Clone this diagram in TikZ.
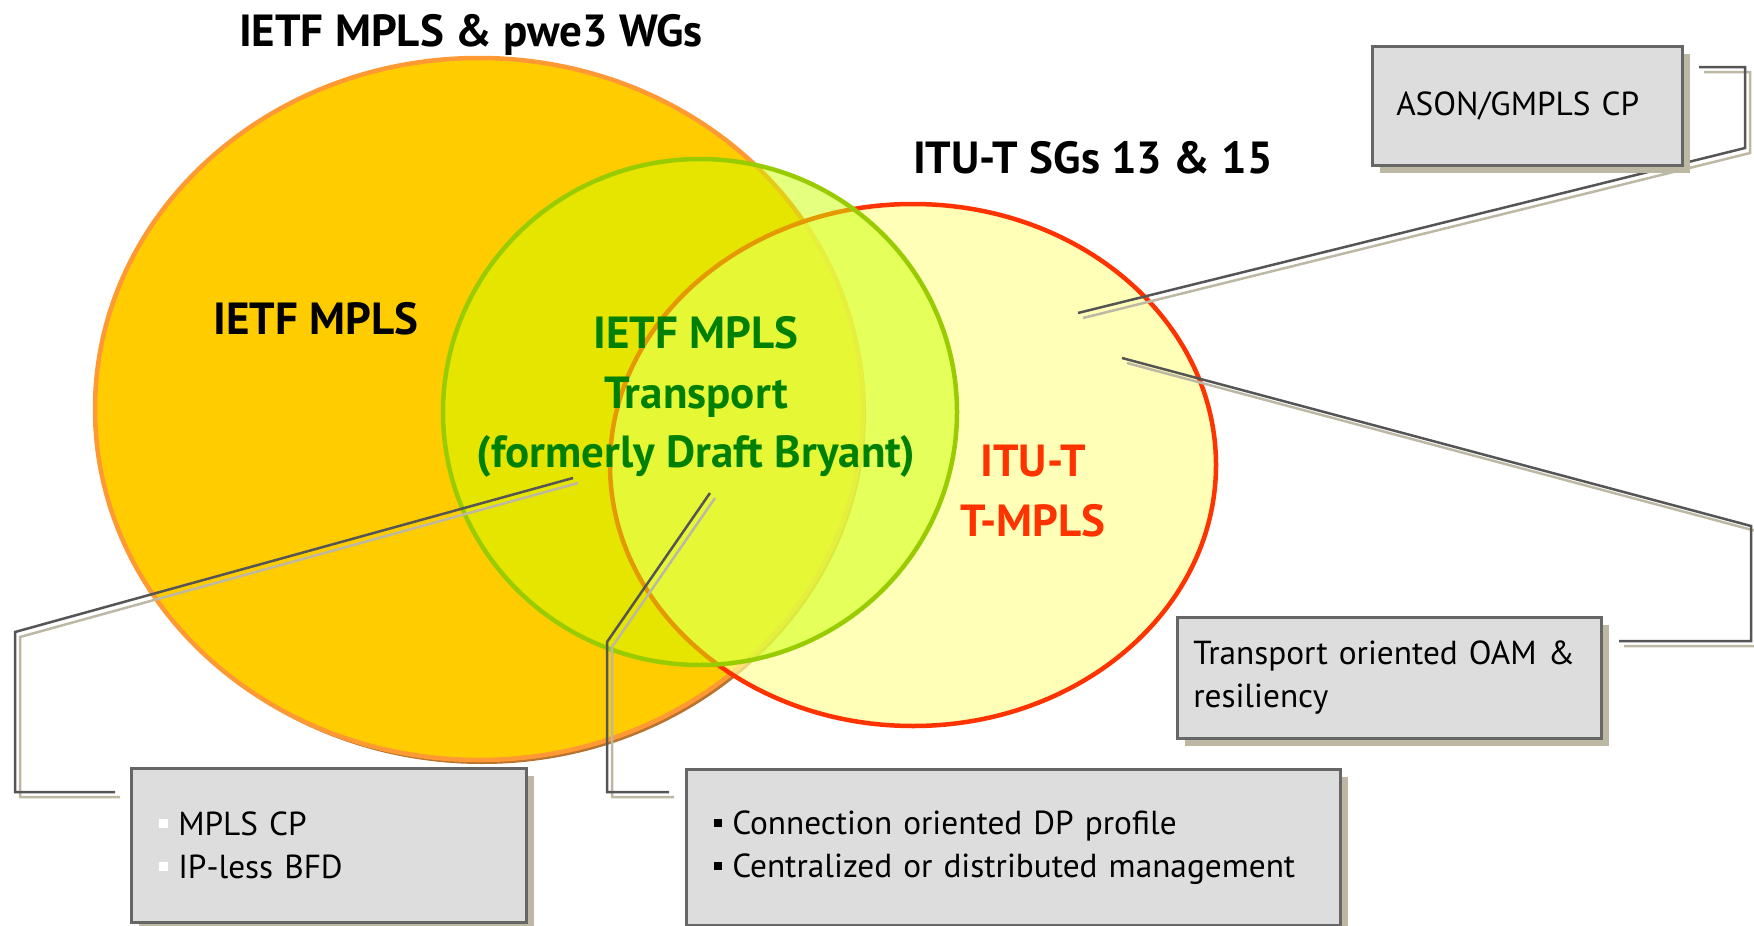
\documentclass[tikz,border=0pt]{standalone}
\usepackage{fontspec}
\setmainfont{PT Sans}
\usetikzlibrary{shadows}

\definecolor{ietforange}{HTML}{FFCC00}
\definecolor{ietfedge}{HTML}{FF9933}
\definecolor{ietfshade}{HTML}{B8732E}
\definecolor{itufill}{HTML}{FFFF99}
\definecolor{ituedge}{HTML}{FF3300}
\definecolor{tpfill}{HTML}{CCFF00}
\definecolor{tpedge}{HTML}{99CC00}
\definecolor{tptext}{HTML}{008000}
\definecolor{boxfill}{HTML}{DDDDDD}
\definecolor{boxedge}{HTML}{666666}
\definecolor{shade}{HTML}{BDB8A4}
\definecolor{leader}{HTML}{555555}

\tikzset{
  infobox/.style={draw=boxedge, line width=2.5pt, fill=boxfill, anchor=north west,
    align=left, inner xsep=24pt, font=\fontsize{33.3}{43}\selectfont,
    drop shadow={shadow xshift=8pt, shadow yshift=-8pt, fill=shade, opacity=1}},
  biglabel/.style={font=\fontsize{45}{59.5}\selectfont\bfseries, align=center},
  leaderline/.style={draw=leader, line width=2.5pt},
  leadershade/.style={draw=shade, line width=2.5pt, transform canvas={xshift=5pt, yshift=-5pt}},
}

\newcommand{\whitebul}{\textcolor{white}{\rule[7pt]{9pt}{9pt}}\hspace{10pt}}
\newcommand{\blackbul}{\rule[7pt]{8pt}{8pt}\hspace{10pt}}

\begin{document}
\begin{tikzpicture}[x=1pt,y=-1pt]

  \useasboundingbox (0,0) rectangle (1754,926);

  % the three working groups
  \fill[ietfshade] (482,413) ellipse [x radius=384, y radius=351];
  \draw[line width=4.5pt, draw=ietfedge, fill=ietforange] (479,409) ellipse [x radius=384, y radius=351];
  \draw[line width=4.5pt, draw=ituedge, fill=itufill, fill opacity=0.7] (913,465) ellipse [x radius=303, y radius=261];
  \draw[line width=4.5pt, draw=tpedge, fill=tpfill, fill opacity=0.5] (700,412) ellipse [x radius=257, y radius=253];

  \node[biglabel] (ietfwg) at (471,35) {IETF MPLS \& pwe3 WGs};
  \node[biglabel] (ituwg) at (1093,158) {ITU-T SGs 13 \& 15};
  \node[biglabel] (ietf) at (316,319) {IETF MPLS};
  \node[biglabel, text=tptext] (tp) at (696,397) {IETF MPLS\\Transport\\(formerly Draft Bryant)};
  \node[biglabel, text=ituedge] (itu) at (1033,491) {ITU-T\\T-MPLS};

  % leader ends
  \coordinate (asonA) at (1699,67);
  \coordinate (asonB) at (1745,67);
  \coordinate (asonC) at (1745,148);
  \coordinate (asonD) at (1078,313);
  \coordinate (oamA) at (1619,641);
  \coordinate (oamB) at (1751,641);
  \coordinate (oamC) at (1751,526);
  \coordinate (oamD) at (1122,358);
  \coordinate (cpA) at (115,792);
  \coordinate (cpB) at (15,792);
  \coordinate (cpC) at (15,632);
  \coordinate (cpD) at (573,478);
  \coordinate (dpA) at (669,792);
  \coordinate (dpB) at (607,792);
  \coordinate (dpC) at (607,642);
  \coordinate (dpD) at (710,493);

  \foreach \a/\b/\c/\d in {asonA/asonB/asonC/asonD, oamA/oamB/oamC/oamD, cpA/cpB/cpC/cpD, dpA/dpB/dpC/dpD}{
    \draw[leadershade] (\a) -- (\b) -- (\c) -- (\d);
    \draw[leaderline] (\a) -- (\b) -- (\c) -- (\d);
  }

  % callout boxes
  \node[infobox, minimum width=310, minimum height=119, text width=262] (ason) at (1371,45) {ASON/GMPLS CP};
  \node[infobox, minimum width=424, minimum height=121, text width=392, inner xsep=16pt] (oam) at (1176,616) {Transport oriented OAM \&\\resiliency};
  \node[infobox, minimum width=395, minimum height=154, text width=339, inner xsep=28pt] (cp) at (130,767) {\whitebul MPLS CP\\\whitebul IP-less BFD};
  \node[infobox, minimum width=654, minimum height=156, text width=598, inner xsep=28pt] (dp) at (685,768) {\blackbul Connection oriented DP profile\\\blackbul Centralized or distributed management};

\end{tikzpicture}
\end{document}
